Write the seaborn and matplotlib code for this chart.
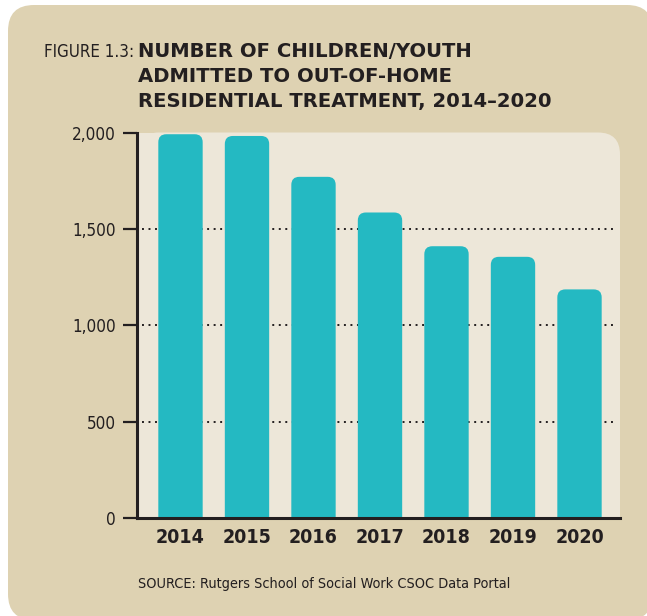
import matplotlib
matplotlib.use('Agg')
import matplotlib.pyplot as plt
import seaborn as sns
import pandas as pd
from matplotlib.patches import FancyBboxPatch, Rectangle
from matplotlib.transforms import IdentityTransform
from matplotlib import font_manager as fm

# ---------------- data ----------------
years = ['2014', '2015', '2016', '2017', '2018', '2019', '2020']
admissions = [1991, 1982, 1770, 1585, 1410, 1355, 1186]
y_ticks = [0, 500, 1000, 1500, 2000]
y_tick_labels = ['0', '500', '1,000', '1,500', '2,000']
grid_values = [500, 1000, 1500]
title_prefix = 'FIGURE 1.3:'
title_lines = ['NUMBER OF CHILDREN/YOUTH',
               'ADMITTED TO OUT-OF-HOME',
               'RESIDENTIAL TREATMENT, 2014\u20132020']
source_text = 'SOURCE: Rutgers School of Social Work CSOC Data Portal'

# ---------------- style ----------------
TAN = '#ded2b2'
PANEL = '#ede7d9'
BAR = '#24b9c2'
INK = '#231f20'

sns.set_theme(style='white')
plt.rcParams['font.family'] = ['DejaVu Sans']


def find_narrow(bold):
    best = None
    for f in fm.fontManager.ttflist:
        fn = f.fname.lower().split('/')[-1]
        if not ('narrow' in fn or 'condensed' in fn):
            continue
        if 'serif' in fn or 'mono' in fn or 'oblique' in fn or 'italic' in fn:
            continue
        w = f.weight
        isbold = (w in ('bold', 'heavy', 'black')) or (isinstance(w, int) and w >= 600)
        if isbold != bold:
            continue
        if best is None or 'dejavusans' in fn:
            best = f
    return best


nr = find_narrow(False)
nb = find_narrow(True)


def props(bold=False):
    f = nb if bold else nr
    if f is None:
        return dict(family=['DejaVu Sans'], fontweight='bold' if bold else 'normal')
    return dict(family=[f.name, 'DejaVu Sans'], fontstretch=f.stretch,
                fontweight=f.weight)


W, H = 647, 616
fig = plt.figure(figsize=(W / 100, H / 100), dpi=100, facecolor='white')

bg = FancyBboxPatch((8, -4), 645, 615, boxstyle='round,pad=0,rounding_size=26',
                    transform=IdentityTransform(), fc=TAN, ec='none', zorder=-3)
fig.add_artist(bg)

px_l, px_r, px_t, px_b = 137, 620, 132.5, 518
pb = H - px_b
ph = px_b - px_t
pw = px_r - px_l
panel = FancyBboxPatch((px_l, pb), pw, ph, boxstyle='round,pad=0,rounding_size=22',
                       transform=IdentityTransform(), fc=PANEL, ec='none', zorder=-2)
fig.add_artist(panel)
for rect in [Rectangle((px_l, pb), pw / 2, ph), Rectangle((px_l, pb), pw, ph / 2)]:
    rect.set_transform(IdentityTransform())
    rect.set_facecolor(PANEL)
    rect.set_edgecolor('none')
    rect.set_zorder(-2)
    fig.add_artist(rect)

ax = fig.add_axes([px_l / W, pb / H, pw / W, ph / H])
ax.set_facecolor('none')

df = pd.DataFrame({'year': years, 'admissions': admissions})
sns.barplot(data=df, x='year', y='admissions', color=BAR, saturation=1,
            width=0.667, ax=ax, zorder=2)

XL = (-0.654, 6.609)
ax.set_xlim(*XL)
ax.set_ylim(0, 2000)

px_per_x = pw / (XL[1] - XL[0])
px_per_y = ph / 2000
r_px = 8
r_x = r_px / px_per_x
aspect = (r_px / px_per_y) / r_x
for p in list(ax.patches):
    x0, w, h = p.get_x(), p.get_width(), p.get_height()
    p.set_visible(False)
    ext = 200
    fb = FancyBboxPatch((x0, -ext), w, h + ext,
                        boxstyle=f'round,pad=0,rounding_size={r_x}',
                        mutation_aspect=aspect, fc=BAR, ec='none', zorder=2)
    ax.add_patch(fb)

for v in grid_values:
    ax.axhline(v, xmin=0.0097, xmax=0.9896, color=INK, lw=1.4,
               linestyle=(0, (1, 2.35)), zorder=1)

for s in ['top', 'right']:
    ax.spines[s].set_visible(False)
for s in ['left', 'bottom']:
    ax.spines[s].set_visible(True)
    ax.spines[s].set_color(INK)
    ax.spines[s].set_linewidth(2.2)
    ax.spines[s].set_zorder(3)

ax.set_yticks(y_ticks)
ax.set_yticklabels(y_tick_labels)
ax.tick_params(axis='y', left=True, length=10, width=1.6, color=INK, pad=5,
               labelcolor=INK)
ax.tick_params(axis='x', bottom=False, length=0, pad=7, labelcolor=INK)
ax.set_xlabel('')
ax.set_ylabel('')

renderer = fig.canvas.get_renderer()


def width_at(s, size, pr):
    t = fig.text(0, 0, s, fontsize=size, **pr)
    w = t.get_window_extent(renderer).width
    t.remove()
    return w


pr_r = props(False)
pr_b = props(True)
ysize = 10 * 44 / width_at('2,000', 10, pr_r)
xsize = 10 * 49 / width_at('2014', 10, pr_b)
for lab in ax.get_yticklabels():
    lab.set_fontsize(min(ysize, 13.5))
    lab.set_fontfamily(pr_r['family'])
    if 'fontstretch' in pr_r:
        lab.set_fontstretch(pr_r['fontstretch'])
for lab in ax.get_xticklabels():
    lab.set_fontsize(min(xsize, 16.5))
    lab.set_fontfamily(pr_b['family'])
    lab.set_fontweight('bold')
    if 'fontstretch' in pr_b:
        lab.set_fontstretch(pr_b['fontstretch'])


def fitted_text(x, base_px, s, target_w, pr, maxsize=30, **kw):
    t = fig.text(x / W, 1 - base_px / H, s, fontsize=10, va='baseline', **pr, **kw)
    w = t.get_window_extent(renderer).width
    t.set_fontsize(min(10 * target_w / w, maxsize))
    return t


fitted_text(44, 57, title_prefix, 90, pr_r, maxsize=13, color=INK)

bold_kw = dict(color=INK, fontweight='bold', family=['DejaVu Sans'])
ends = [472, 455, 553]
baselines = [57, 82, 107.5]
sizes = []
tmp = []
for line, e in zip(title_lines, ends):
    t = fig.text(137.5 / W, 0, line, fontsize=10, **bold_kw)
    sizes.append(10 * (e - 137.5) / t.get_window_extent(renderer).width)
    tmp.append(t)
size = sum(sizes) / len(sizes)
for t, b in zip(tmp, baselines):
    t.set_fontsize(size)
    t.set_position((137.5 / W, 1 - b / H))
    t.set_va('baseline')

fitted_text(137.5, 588, source_text, 372, pr_r, maxsize=12.5, color=INK)

fig.savefig('out.png', dpi=100, facecolor='white')
